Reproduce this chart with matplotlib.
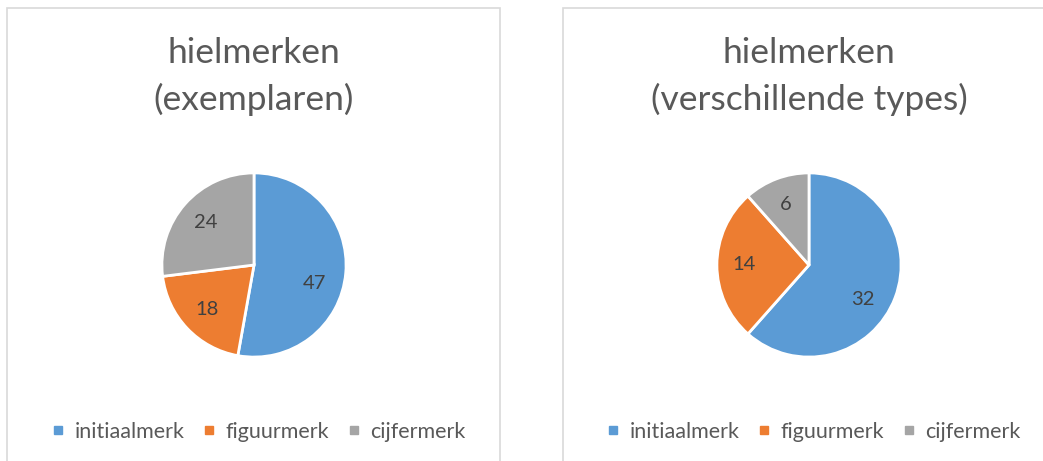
import numpy as np
import matplotlib.pyplot as plt
from matplotlib.lines import Line2D
from matplotlib.patches import Rectangle

categories = ['initiaalmerk', 'figuurmerk', 'cijfermerk']
exemplaren = [47, 18, 24]
types = [32, 14, 6]
titles = ['hielmerken\n(exemplaren)', 'hielmerken\n(verschillende types)']

COLORS = ['#5B9BD5', '#ED7D31', '#A5A5A5']
TEXT_DARK = '#404040'
TEXT_GREY = '#595959'
BORDER = '#D9D9D9'

W, H = 1043, 461
size_paras = {
    'title': 25.5,
    'label': 14.5,
    'legend': 15.5,
}

plt.rcParams['font.family'] = ['Lato', 'DejaVu Sans']


def px(x, y, w=0, h=0):
    """Pixel box (from top-left) to figure fraction [l, b, w, h]."""
    return [x / W, 1 - (y + h) / H, w / W, h / H]


def draw_panel(fig, values, title, box, cx, cy, r=93):
    l, b, w, h = px(*box)
    fig.add_artist(Rectangle((l, b), w, h, transform=fig.transFigure,
                             facecolor='none', edgecolor=BORDER, linewidth=1.2))

    ax = fig.add_axes(px(cx - r, cy - r, 2 * r, 2 * r))
    total = sum(values)
    wedges, _, autotexts = ax.pie(
        values, colors=COLORS, startangle=90, counterclock=False,
        autopct=lambda p: f'{round(p * total / 100):d}', pctdistance=0.7,
        wedgeprops=dict(edgecolor='white', linewidth=2),
        textprops=dict(fontsize=size_paras['label'], color=TEXT_DARK))
    ax.set_xlim(-1.01, 1.01)
    ax.set_ylim(-1.01, 1.01)
    ax.set_aspect('equal')

    # Excel "best fit" nudges the label of the big slice a bit downwards
    wd = wedges[0]
    ang = np.deg2rad((wd.theta1 + wd.theta2) / 2 - 12)
    autotexts[0].set_position((0.69 * np.cos(ang), 0.69 * np.sin(ang)))

    fig.text(cx / W, 1 - 37 / H, title, ha='center', va='top',
             fontsize=size_paras['title'], color=TEXT_GREY, linespacing=1.5)

    handles = [Line2D([], [], marker='s', linestyle='none', markersize=6,
                      markerfacecolor=c, markeredgecolor=c) for c in COLORS]
    fig.legend(handles, categories, loc='center', bbox_to_anchor=(cx / W + 0.005, 1 - 432 / H),
               ncol=3, frameon=False, fontsize=size_paras['legend'],
               labelcolor=TEXT_GREY, handlelength=0.5, handletextpad=0.5,
               columnspacing=0.9)
    return wedges


fig = plt.figure(figsize=(W / 100, H / 100), dpi=100)
draw_panel(fig, exemplaren, titles[0], (7, 8, 493, 470), 254, 265)
draw_panel(fig, types, titles[1], (563, 8, 500, 470), 809, 265)

fig.savefig('out.png', dpi=100)
